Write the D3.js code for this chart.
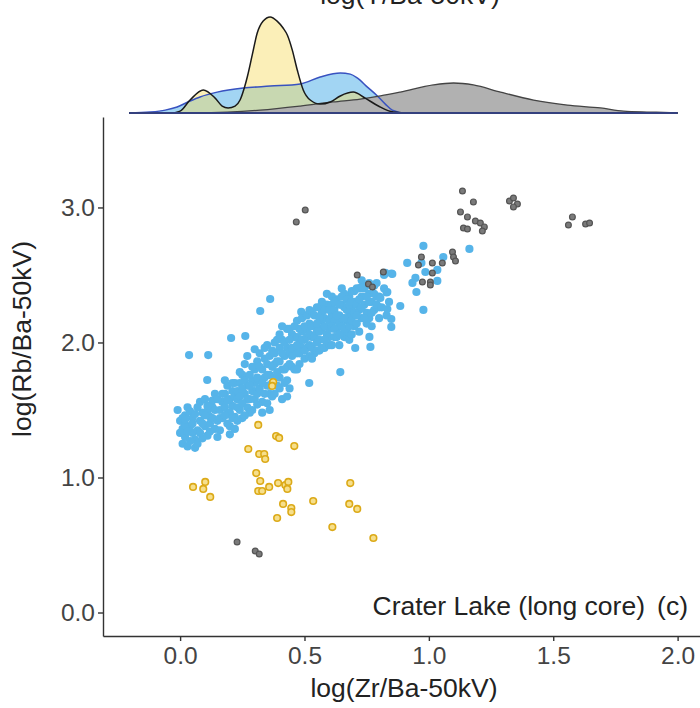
<!DOCTYPE html>
<html>
<head>
<meta charset="utf-8">
<script src="https://cdnjs.cloudflare.com/ajax/libs/d3/7.8.5/d3.min.js"></script>
<style>
  body { margin: 0; background: #fff; }
  svg { display: block; font-family: "Liberation Sans", Arial, sans-serif; }
  .axis path, .axis line { stroke: #333; stroke-width: 1.4; }
  .axis text { fill: #444; font-size: 24.5px; }
</style>
</head>
<body>
<svg id="chart" width="700" height="708"></svg>
<script>
// x ticks / y ticks
var xTicks = [0.0, 0.5, 1.0, 1.5, 2.0];
var yTicks = [0.0, 1.0, 2.0, 3.0];

// marginal density curves, log(Y/Ba-50kV): [x, density]
var densBlue = [[-0.205,0],[-0.121,0.04],[-0.060,0.12],[-0.012,0.25],[0.040,0.5],[0.080,0.67],[0.149,0.87],[0.254,1.04],[0.362,1.12],[0.483,1.21],[0.563,1.5],[0.644,1.67],[0.684,1.62],[0.712,1.46],[0.753,1.08],[0.797,0.67],[0.825,0.37],[0.853,0.12],[0.905,0],[2.0,0]];
var densYellow = [[-0.205,0],[-0.040,0],[0.000,0.08],[0.040,0.54],[0.093,0.96],[0.141,0.62],[0.169,0.29],[0.193,0.21],[0.221,0.29],[0.241,0.54],[0.258,1.04],[0.270,1.5],[0.290,2.42],[0.310,3.33],[0.334,3.83],[0.362,4.0],[0.390,3.83],[0.414,3.54],[0.431,3.25],[0.451,2.62],[0.471,1.79],[0.495,0.96],[0.523,0.54],[0.563,0.37],[0.604,0.46],[0.644,0.71],[0.696,0.87],[0.744,0.62],[0.797,0.29],[0.857,0.04],[0.926,0],[2.0,0]];
var densGrey = [[-0.205,0],[0.000,0],[0.189,0.04],[0.322,0.12],[0.483,0.29],[0.616,0.46],[0.724,0.58],[0.805,0.71],[0.885,0.87],[1.018,1.17],[1.099,1.25],[1.179,1.17],[1.288,0.87],[1.421,0.54],[1.557,0.33],[1.690,0.21],[1.783,0.08],[1.891,0.04],[2.0,0]];

// Crater Lake long core, [log(Zr/Ba), log(Rb/Ba)]
var bluePts = [
  [-0.01,1.50],[0.00,1.42],[0.01,1.36],[0.02,1.30],[0.01,1.25],[0.03,1.23],[0.02,1.46],[0.04,1.38],[0.05,1.33],[0.03,1.52],[0.00,1.33],[0.05,1.44],[0.06,1.28],[0.04,1.49],[0.02,1.39],[0.06,1.22],[0.07,1.25],
  [0.07,1.35],[0.08,1.42],[0.09,1.48],[0.10,1.38],[0.11,1.31],[0.12,1.45],[0.13,1.52],[0.08,1.56],[0.10,1.58],[0.12,1.40],[0.14,1.36],[0.09,1.29],[0.13,1.57],[0.11,1.49],
  [0.01,1.44],[0.03,1.34],[0.05,1.40],[0.06,1.47],[0.08,1.33],[0.09,1.40],[0.10,1.46],[0.11,1.53],[0.12,1.34],[0.13,1.44],[0.14,1.50],[0.07,1.52],[0.04,1.27],[0.02,1.43],[0.14,1.62],
  [0.036,1.907],[0.113,1.907],[0.205,2.033],[0.262,2.048],[0.109,1.722],
  [0.15,1.42],[0.16,1.50],[0.17,1.56],[0.18,1.62],[0.19,1.47],[0.20,1.38],[0.21,1.53],[0.15,1.58],[0.17,1.44],[0.19,1.68],[0.21,1.64],[0.22,1.45],[0.16,1.35],[0.18,1.72],[0.20,1.58],[0.22,1.70],[0.15,1.30],[0.20,1.32],[0.22,1.36],
  [0.16,1.44],[0.17,1.62],[0.18,1.52],[0.19,1.40],[0.19,1.57],[0.20,1.48],[0.21,1.44],[0.21,1.70],[0.22,1.60],[0.23,1.64],[0.24,1.50],[0.24,1.70],[0.25,1.44],[0.25,1.76],[0.26,1.62],[0.27,1.52],[0.27,1.68],[0.28,1.58],[0.29,1.72],[0.29,1.50],[0.30,1.64],[0.30,1.80],[0.23,1.58],[0.18,1.46],
  [0.23,1.52],[0.24,1.60],[0.25,1.66],[0.26,1.72],[0.27,1.58],[0.28,1.48],[0.29,1.64],[0.24,1.78],[0.26,1.84],[0.28,1.76],[0.30,1.70],[0.23,1.42],[0.25,1.55],[0.27,1.90],[0.29,1.82],[0.30,1.58],[0.26,1.46],[0.28,1.68],
  [0.31,1.62],[0.32,1.72],[0.33,1.80],[0.34,1.88],[0.35,1.68],[0.36,1.76],[0.37,1.94],[0.31,1.86],[0.33,1.56],[0.35,1.98],[0.36,1.62],[0.38,1.84],[0.32,1.92],[0.34,1.74],[0.37,1.70],[0.38,2.00],[0.30,1.95],[0.35,1.55],[0.33,1.48],[0.36,1.50],
  [0.31,1.74],[0.31,1.54],[0.32,1.66],[0.32,1.82],[0.33,1.70],[0.34,1.62],[0.34,1.96],[0.35,1.84],[0.35,1.76],[0.36,1.90],[0.36,1.68],[0.37,1.82],[0.37,1.60],[0.38,1.74],[0.38,1.92],[0.39,1.86],[0.39,2.02],[0.40,1.66],[0.40,1.96],[0.41,1.80],[0.41,2.02],[0.42,1.70],[0.42,1.90],[0.43,1.96],[0.43,1.82],[0.44,1.92],[0.44,2.10],[0.45,1.82],[0.45,2.06],[0.46,1.94],[0.46,2.12],
  [0.362,2.322],[0.322,2.233],[0.487,2.226],
  [0.39,1.78],[0.40,1.86],[0.41,1.92],[0.42,2.00],[0.43,1.72],[0.44,1.84],[0.45,1.96],[0.46,2.04],[0.39,1.68],[0.40,2.06],[0.42,1.80],[0.43,2.10],[0.44,1.66],[0.45,1.90],[0.41,2.12],[0.46,1.80],[0.40,1.74],[0.44,2.02],[0.38,1.62],[0.41,1.58],[0.43,1.60],
  [0.47,1.92],[0.48,2.00],[0.49,2.08],[0.50,1.88],[0.51,1.96],[0.52,2.14],[0.53,2.04],[0.54,1.92],[0.47,2.16],[0.48,1.84],[0.50,2.20],[0.51,2.10],[0.52,1.90],[0.53,2.22],[0.49,1.96],[0.54,2.12],[0.50,2.02],[0.47,1.80],[0.52,1.98],[0.53,1.88],[0.519,1.700],
  [0.47,2.04],[0.47,1.98],[0.48,2.10],[0.48,1.92],[0.49,2.02],[0.49,2.18],[0.50,1.94],[0.50,2.12],[0.51,2.04],[0.51,2.20],[0.52,2.06],[0.52,2.24],[0.53,1.96],[0.53,2.12],[0.54,2.04],[0.54,2.20],[0.55,1.94],[0.55,2.08],[0.56,2.02],[0.56,2.26],[0.57,2.10],[0.57,2.22],[0.58,1.96],[0.58,2.18],[0.59,2.06],[0.59,2.28],[0.60,2.04],[0.60,2.16],
  [0.55,2.00],[0.56,2.08],[0.57,2.16],[0.58,2.24],[0.59,1.98],[0.60,2.10],[0.61,2.20],[0.62,2.04],[0.55,2.26],[0.56,1.94],[0.57,2.30],[0.58,2.12],[0.59,2.36],[0.60,1.98],[0.61,2.28],[0.62,2.16],[0.56,2.18],[0.58,2.02],[0.60,2.24],[0.57,1.96],[0.61,1.98],[0.55,2.14],
  [0.63,2.10],[0.64,2.20],[0.65,2.28],[0.66,2.04],[0.67,2.16],[0.68,2.34],[0.69,2.24],[0.70,2.12],[0.63,2.32],[0.64,1.98],[0.65,2.40],[0.66,2.26],[0.67,2.08],[0.68,2.20],[0.69,2.38],[0.70,2.30],[0.64,2.14],[0.66,2.36],[0.68,2.02],[0.62,2.24],[0.65,2.18],[0.69,2.06],[0.644,1.781],
  [0.61,2.12],[0.61,2.34],[0.62,2.10],[0.62,2.30],[0.63,2.04],[0.63,2.20],[0.64,2.28],[0.64,2.06],[0.65,2.12],[0.65,2.34],[0.66,2.18],[0.66,2.10],[0.67,2.24],[0.67,2.32],[0.68,2.12],[0.68,2.28],[0.69,2.16],[0.69,2.30],[0.70,2.22],[0.70,2.38],
  [0.71,2.28],[0.71,2.14],[0.72,2.24],[0.72,2.40],[0.73,2.18],[0.73,2.34],[0.74,2.28],[0.75,2.22],[0.75,2.42],[0.76,2.18],[0.76,2.36],[0.77,2.30],[0.78,2.24],[0.78,2.42],[0.79,2.34],[0.80,2.26],
  [0.71,2.20],[0.72,2.32],[0.73,2.26],[0.74,2.40],[0.75,2.14],[0.76,2.30],[0.77,2.22],[0.78,2.36],[0.72,2.08],[0.74,2.18],[0.76,2.44],[0.79,2.28],[0.80,2.18],[0.73,2.46],[0.75,2.34],[0.71,2.40],[0.77,2.12],[0.80,2.34],
  [0.81,2.26],[0.82,2.40],[0.84,2.30],[0.83,2.20],[0.73,2.41],[0.79,2.44],[0.83,2.37],[0.82,2.50],[0.85,2.51],
  [0.765,1.967],[0.704,1.959],[0.761,2.041],[0.849,2.174],[0.849,2.115],[0.833,2.248],[0.885,2.270],[0.805,2.330],[0.833,2.374],[0.732,2.404],[0.825,2.515],[0.853,2.507],
  [0.978,2.715],[1.163,2.693],[0.913,2.589],[0.970,2.589],[1.058,2.633],[0.986,2.522],[1.034,2.537],[0.946,2.478],[0.934,2.441],[0.950,2.374],[1.034,2.456],[0.978,2.241]
];

// yellow group
var yellowPts = [
  [0.314,1.389],[0.386,1.307],[0.398,1.293],[0.459,1.233],[0.274,1.211],[0.318,1.174],[0.338,1.174],[0.342,1.137],
  [0.306,1.033],[0.322,0.974],[0.101,0.967],[0.052,0.930],[0.093,0.915],[0.121,0.856],[0.314,0.900],[0.330,0.900],
  [0.358,0.930],[0.394,0.959],[0.423,0.944],[0.435,0.967],[0.431,0.915],[0.414,0.804],[0.447,0.774],[0.447,0.744],
  [0.390,0.700],[0.535,0.826],[0.684,0.959],[0.680,0.804],[0.712,0.767],[0.612,0.633],[0.777,0.552],
  [0.374,1.707],[0.370,1.678]
];

// grey group
var greyPts = [
  [0.467,2.893],[0.503,2.981],[0.712,2.500],[0.757,2.433],[0.773,2.411],[0.817,2.522],
  [0.970,2.633],[0.958,2.574],[1.014,2.589],[1.054,2.589],[1.095,2.670],[1.099,2.633],[1.107,2.604],
  [1.014,2.515],[0.974,2.448],[1.006,2.448],[1.006,2.426],
  [1.135,3.122],[1.179,3.041],[1.127,2.967],[1.155,2.930],[1.187,2.900],[1.207,2.885],[1.223,2.856],
  [1.139,2.848],[1.155,2.841],[1.215,2.826],
  [1.324,3.048],[1.340,3.070],[1.356,3.026],[1.340,3.004],
  [1.577,2.930],[1.561,2.870],[1.630,2.878],[1.646,2.885],
  [0.229,0.522],[0.302,0.456],[0.318,0.433]
];

var svg = d3.select('#chart');

var x = d3.scaleLinear().domain([-0.31, 2.09]).range([103, 700]);
var y = d3.scaleLinear().domain([-0.174, 3.67]).range([636, 117]);
var yd = d3.scaleLinear().domain([0, 4]).range([113, 17]);

/* marginal densities */
var area = d3.area()
    .x(function(d) { return x(d[0]); })
    .y0(yd(0))
    .y1(function(d) { return yd(d[1]); })
    .curve(d3.curveMonotoneX);
var line = d3.line()
    .x(function(d) { return x(d[0]); })
    .y(function(d) { return yd(d[1]); })
    .curve(d3.curveMonotoneX);

var dens = svg.append('g');
dens.append('path').datum(densBlue).attr('d', area)
    .attr('fill', '#45ace8').attr('fill-opacity', 0.5);
dens.append('path').datum(densYellow).attr('d', area)
    .attr('fill', '#f7db62').attr('fill-opacity', 0.45);
dens.append('path').datum(densGrey).attr('d', area)
    .attr('fill', '#b1b1b1');
dens.append('path').datum(densBlue).attr('d', line)
    .attr('fill', 'none').attr('stroke', '#3852c0').attr('stroke-width', 1.5);
dens.append('path').datum(densGrey).attr('d', line)
    .attr('fill', 'none').attr('stroke', '#444').attr('stroke-width', 1.3);
dens.append('path').datum(densYellow).attr('d', line)
    .attr('fill', 'none').attr('stroke', '#1a1a1a').attr('stroke-width', 1.5);
dens.append('line')
    .attr('x1', x(-0.205)).attr('x2', x(2.0))
    .attr('y1', yd(0)).attr('y2', yd(0))
    .attr('stroke', '#34407e').attr('stroke-width', 1.8);

// top title, mostly cut off by the top edge
svg.append('text')
    .attr('x', 410).attr('y', 4)
    .attr('text-anchor', 'middle')
    .attr('font-size', 26.5).attr('fill', '#222')
    .text('log(Y/Ba-50kV)');

/* scatter */
var pts = svg.append('g');
pts.selectAll('circle.blue').data(bluePts).enter()
    .append('circle').attr('class', 'blue')
    .attr('cx', function(d) { return x(d[0]); })
    .attr('cy', function(d) { return y(d[1]); })
    .attr('r', 4.1)
    .attr('fill', '#56b4e9');
pts.selectAll('circle.yellow').data(yellowPts).enter()
    .append('circle').attr('class', 'yellow')
    .attr('cx', function(d) { return x(d[0]); })
    .attr('cy', function(d) { return y(d[1]); })
    .attr('r', 3.3)
    .attr('fill', '#f6df8c')
    .attr('stroke', '#dcaa18').attr('stroke-width', 1.6);
pts.selectAll('circle.grey').data(greyPts).enter()
    .append('circle').attr('class', 'grey')
    .attr('cx', function(d) { return x(d[0]); })
    .attr('cy', function(d) { return y(d[1]); })
    .attr('r', 2.9)
    .attr('fill', '#7a7a7a')
    .attr('stroke', '#555').attr('stroke-width', 1.2);

/* axes */
var fmt = d3.format('.1f');
svg.append('g').attr('class', 'axis')
    .attr('transform', 'translate(0,636)')
    .call(d3.axisBottom(x).tickValues(xTicks).tickFormat(fmt).tickSize(5).tickPadding(6).tickSizeOuter(0));
svg.append('g').attr('class', 'axis')
    .attr('transform', 'translate(103,0)')
    .call(d3.axisLeft(y).tickValues(yTicks).tickFormat(fmt).tickSize(5).tickPadding(3).tickSizeOuter(0));

svg.append('text')
    .attr('x', 404).attr('y', 697)
    .attr('text-anchor', 'middle')
    .attr('font-size', 26.5).attr('fill', '#222')
    .text('log(Zr/Ba-50kV)');

svg.append('text')
    .attr('transform', 'translate(31,339) rotate(-90)')
    .attr('text-anchor', 'middle')
    .attr('font-size', 26.5).attr('fill', '#222')
    .text('log(Rb/Ba-50kV)');

svg.append('text')
    .attr('x', 645).attr('y', 615)
    .attr('text-anchor', 'end')
    .attr('font-size', 26.5).attr('fill', '#222')
    .text('Crater Lake (long core)');
svg.append('text')
    .attr('x', 688).attr('y', 615)
    .attr('text-anchor', 'end')
    .attr('font-size', 26.5).attr('fill', '#222')
    .text('(c)');
</script>
</body>
</html>
